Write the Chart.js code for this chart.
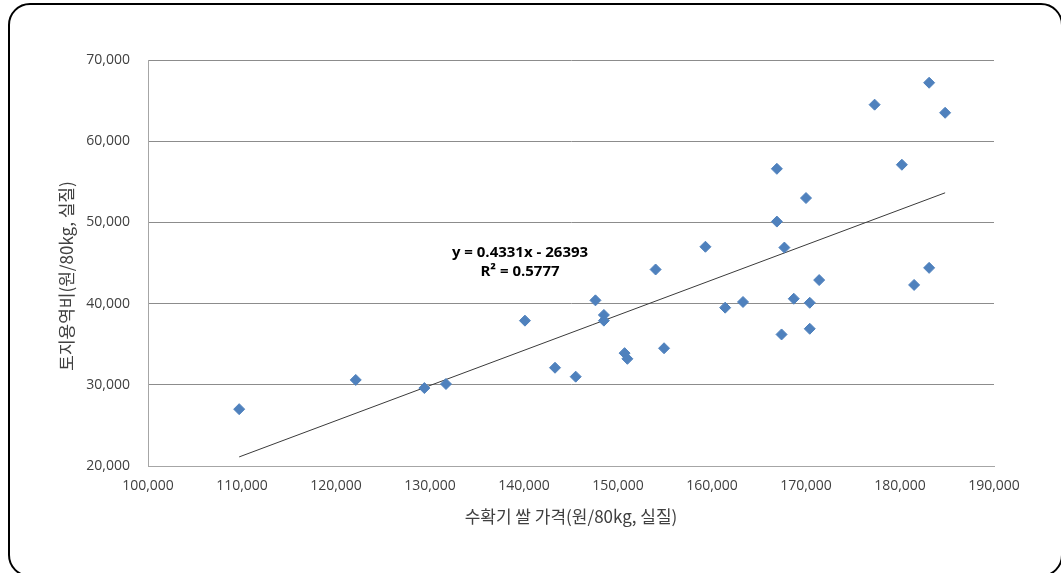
<!DOCTYPE html>
<html>
<head>
<meta charset="utf-8">
<script src="https://cdn.jsdelivr.net/npm/chart.js@4.4.0/dist/chart.umd.min.js"></script>
<style>
  html, body { margin: 0; padding: 0; background: #fff; }
  #wrap { position: relative; width: 1061px; height: 573px; overflow: hidden; }
  #frame {
    position: absolute; left: 8px; top: 3px; width: 1055px; height: 574px;
    border: 2px solid #000; border-radius: 22px; box-sizing: border-box;
  }
  #chart { position: absolute; left: 0; top: 0; }
</style>
</head>
<body>
<div id="wrap">
  <div id="frame"></div>
  <canvas id="chart" width="1061" height="573"></canvas>
</div>
<script>
// rice price at harvest (won/80kg, real) vs land service cost (won/80kg, real)
var riceX = [109700, 122100, 129400, 131700, 140100, 143300, 145500, 147600, 148500, 148500,
             150700, 151000, 154000, 154900, 159300, 161400, 163300, 166900, 166900, 167400,
             167700, 168700, 170000, 170400, 170400, 171400, 177300, 180200, 181500, 183100,
             183100, 184800];
var landY = [27000, 30600, 29600, 30100, 37900, 32100, 31000, 40400, 38600, 37900,
             33900, 33200, 44200, 34500, 47000, 39500, 40200, 56600, 50100, 36200,
             46900, 40600, 53000, 40100, 36900, 42900, 64500, 57100, 42300, 44400,
             67200, 63500];

// linear trend (from the regression shown on the chart)
var slope = 0.4331;
var intercept = -26393;
var rSquared = 0.5777;

var xTitle = "수확기 쌀 가격(원/80kg, 실질)";
var yTitle = "토지용역비(원/80kg, 실질)";

var points = riceX.map(function (x, i) {
  return { x: x, y: landY[i] };
});

var xMin = Math.min.apply(null, riceX);
var xMax = Math.max.apply(null, riceX);
var trend = [
  { x: xMin, y: slope * xMin + intercept },
  { x: xMax, y: slope * xMax + intercept }
];

var tickFont = { family: "'Open Sans', 'Noto Sans'", size: 14 };
var textColor = "#404040";

function fmt(v) {
  return v.toLocaleString("en-US");
}

// axis titles and the regression equation
var labelPlugin = {
  id: "extraText",
  afterDraw: function (chart) {
    var ctx = chart.ctx;
    var area = chart.chartArea;
    ctx.save();
    ctx.fillStyle = textColor;
    ctx.textAlign = "center";
    ctx.textBaseline = "middle";
    ctx.font = "17px 'Noto Sans CJK KR'";
    ctx.fillText(xTitle, (area.left + area.right) / 2, 517);
    ctx.save();
    ctx.translate(67, 276);
    ctx.rotate(-Math.PI / 2);
    ctx.fillText(yTitle, 0, 0);
    ctx.restore();

    ctx.fillStyle = "#000";
    ctx.font = "bold 15px 'Open Sans'";
    var eq = "y = " + slope + "x - " + Math.abs(intercept);
    ctx.fillText(eq, 520, 253);
    ctx.fillText("R\u00b2 = " + rSquared, 520, 272);
    ctx.restore();
  }
};

var ctx = document.getElementById("chart");
window.myChart = new Chart(ctx, {
  type: "scatter",
  data: {
    datasets: [
      {
        label: "data",
        data: points,
        pointStyle: "rectRot",
        pointRadius: 5.5,
        backgroundColor: "#4F81BD",
        borderColor: "#4F81BD",
        borderWidth: 1
      },
      {
        label: "trend",
        type: "line",
        data: trend,
        borderColor: "#3a3a3a",
        borderWidth: 1,
        pointRadius: 0,
        fill: false
      }
    ]
  },
  options: {
    responsive: false,
    animation: false,
    layout: { padding: { left: 0, right: 67, top: 60, bottom: 0 } },
    plugins: {
      legend: { display: false },
      tooltip: { enabled: false }
    },
    scales: {
      x: {
        type: "linear",
        min: 100000,
        max: 190000,
        ticks: {
          stepSize: 10000,
          callback: fmt,
          font: tickFont,
          color: textColor,
          padding: 12,
          maxRotation: 0
        },
        grid: { display: false, drawTicks: false },
        border: { color: "#a6a6a6", width: 1 },
        afterFit: function (scale) { scale.height = 107; }
      },
      y: {
        min: 20000,
        max: 70000,
        ticks: {
          stepSize: 10000,
          callback: fmt,
          font: tickFont,
          color: textColor,
          padding: 18
        },
        grid: { color: "#8c8c8c", drawTicks: false },
        border: { color: "#a6a6a6", width: 1 },
        afterFit: function (scale) { scale.width = 148; }
      }
    }
  },
  plugins: [labelPlugin]
});
</script>
</body>
</html>
